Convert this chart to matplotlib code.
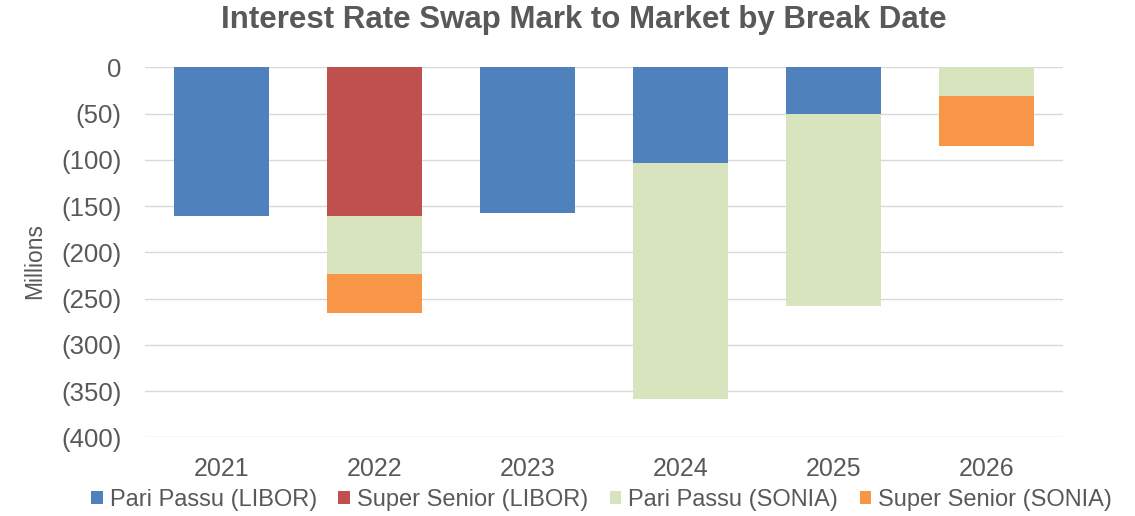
import matplotlib
matplotlib.use("Agg")
import matplotlib.pyplot as plt
import numpy as np
from matplotlib.ticker import FuncFormatter

plt.rcParams['font.family'] = ['Liberation Sans', 'DejaVu Sans']

years = ["2021", "2022", "2023", "2024", "2025", "2026"]
series_names = ["Pari Passu (LIBOR)", "Super Senior (LIBOR)", "Pari Passu (SONIA)", "Super Senior (SONIA)"]
pari_libor = [-161, 0, -157, -104, -50, 0]
super_libor = [0, -161, 0, 0, 0, 0]
pari_sonia = [0, -62, 0, -255, -208, -31]
super_sonia = [0, -43, 0, 0, 0, -54]
colors = ["#4f81bd", "#c0504d", "#d7e4bd", "#f79646"]
yticks = [0, -50, -100, -150, -200, -250, -300, -350, -400]

fig = plt.figure(figsize=(11.35, 5.16), dpi=100)
ax = fig.add_axes([0.128, 0.1525, 0.8086, 0.7171])

x = np.arange(len(years))
bottom = np.zeros(len(years))
for name, vals, c in zip(series_names, [pari_libor, super_libor, pari_sonia, super_sonia], colors):
    v = np.array(vals, dtype=float)
    ax.bar(x, v, 0.62, bottom=bottom, color=c, label=name, zorder=3)
    bottom = bottom + v

ax.set_xlim(-0.5, len(years) - 0.5)
ax.set_ylim(-400, 0)
ax.set_yticks(yticks)
ax.yaxis.set_major_formatter(FuncFormatter(lambda v, p: "0" if v == 0 else f"({abs(int(v))})"))
ax.set_xticks(x)
ax.set_xticklabels(years)
ax.grid(axis='y', color="#d9d9d9", linewidth=1, zorder=0)
for s in ax.spines.values():
    s.set_visible(False)
ax.tick_params(axis='y', length=0, labelsize=18.5, colors="#595959", pad=17)
ax.tick_params(axis='x', length=0, labelsize=18, colors="#595959", pad=14)

fig.text(35 / 1135, 1 - 261 / 516, "Millions", rotation=90, ha='center', va='center',
         fontsize=16.5, color="#595959")

fig.text(0.514, 0.962, "Interest Rate Swap Mark to Market by Break Date", ha='center', va='center',
         fontsize=22.5, fontweight='bold', color="#595959")

fig.legend(loc='center', bbox_to_anchor=(0.530, 1 - 500 / 516), ncol=4, frameon=False,
           fontsize=17, handlelength=0.5, handleheight=0.5, handletextpad=0.3, columnspacing=0.9,
           labelcolor="#595959", borderaxespad=0, borderpad=0)

fig.savefig("out.png", dpi=100)
